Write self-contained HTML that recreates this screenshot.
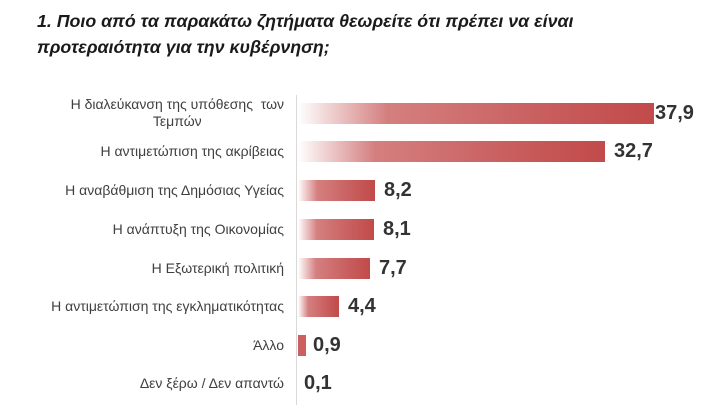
<!DOCTYPE html>
<html><head><meta charset="utf-8"><style>
body{margin:0;width:720px;height:405px;background:#fff;position:relative;overflow:hidden;font-family:"Liberation Sans","DejaVu Sans",sans-serif;}
.t{position:absolute;left:37px;font-size:17.8px;font-weight:bold;font-style:italic;color:#1a1a1a;white-space:nowrap}
.l{position:absolute;right:436px;font-size:14px;color:#404040;text-align:center;white-space:nowrap;line-height:17px}
.b{position:absolute;left:298px;height:21px;background:linear-gradient(90deg,rgba(200,80,80,0) 0%,rgba(205,105,105,.85) 25%,#c75a5a 75%,#c24a4a 100%)}
.v{position:absolute;font-size:20px;font-weight:bold;color:#333;line-height:21px}
.ax{position:absolute;left:296px;top:95px;width:1px;height:310px;background:#d9d9d9}
</style></head><body>
<div class="t" style="top:11px">1. Ποιο από τα παρακάτω ζητήματα θεωρείτε ότι πρέπει να είναι</div>
<div class="t" style="top:37px">προτεραιότητα για την κυβέρνηση;</div>
<div class="ax"></div>

<div class="l" style="top:96px">Η διαλεύκανση της υπόθεσης &nbsp;των<br>Τεμπών</div>
<div class="b" style="top:103px;width:356px"></div><div class="v" style="top:103px;left:655px">37,9</div>

<div class="l" style="top:143px">Η αντιμετώπιση της ακρίβειας</div>
<div class="b" style="top:141px;width:307px"></div><div class="v" style="top:141px;left:614px">32,7</div>

<div class="l" style="top:182px">Η αναβάθμιση της Δημόσιας Υγείας</div>
<div class="b" style="top:180px;width:77px"></div><div class="v" style="top:180px;left:384px">8,2</div>

<div class="l" style="top:221px">Η ανάπτυξη της Οικονομίας</div>
<div class="b" style="top:219px;width:76px"></div><div class="v" style="top:219px;left:383px">8,1</div>

<div class="l" style="top:260px">Η Εξωτερική πολιτική</div>
<div class="b" style="top:258px;width:72px"></div><div class="v" style="top:258px;left:379px">7,7</div>

<div class="l" style="top:298px">Η αντιμετώπιση της εγκληματικότητας</div>
<div class="b" style="top:296px;width:41px"></div><div class="v" style="top:296px;left:348px">4,4</div>

<div class="l" style="top:337px">Άλλο</div>
<div class="b" style="top:335px;width:8px;background:#cc6060"></div><div class="v" style="top:335px;left:313px">0,9</div>

<div class="l" style="top:375px">Δεν ξέρω / Δεν απαντώ</div>
<div class="v" style="top:373px;left:304px">0,1</div>
</body></html>
